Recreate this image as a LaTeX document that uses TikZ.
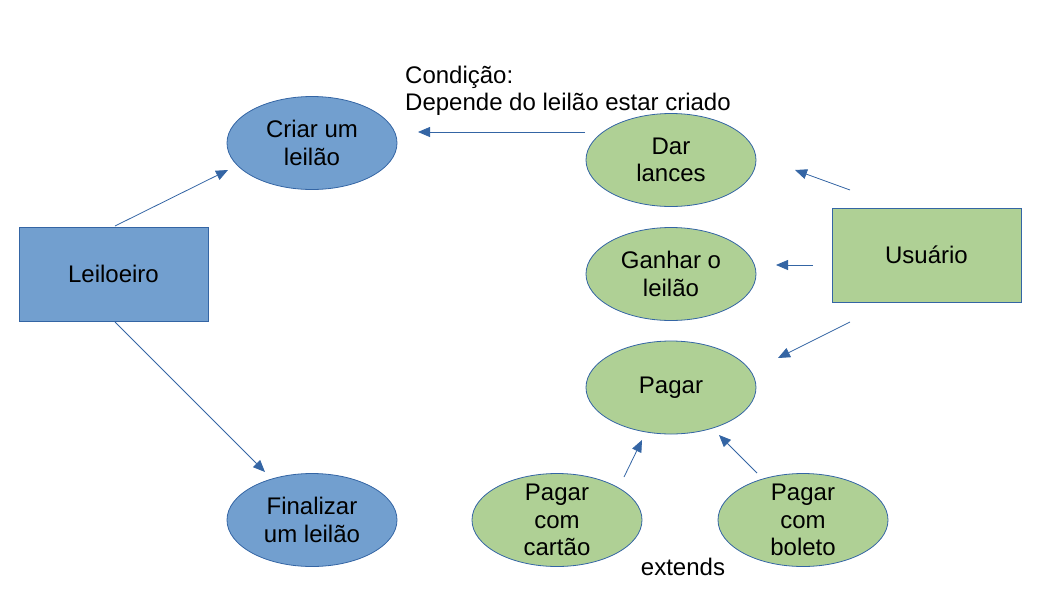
\documentclass[tikz,border=0pt]{standalone}
\usepackage{fontspec}
\setmainfont{Liberation Sans}
\usetikzlibrary{shapes.geometric, arrows.meta}
\definecolor{lblue}{HTML}{729FCF}
\definecolor{dblue}{HTML}{3465A4}
\definecolor{lgreen}{HTML}{AFD095}
\tikzset{
    actor/.style={
        draw=dblue,
        line width=0.8pt,
        rectangle,
        minimum width=189pt,
        minimum height=94pt
    },
    usecase/.style={
        draw=dblue,
        line width=0.8pt,
        ellipse,
        minimum width=170pt,
        minimum height=93pt,
        inner sep=-25pt,
        align=center
    },
    arr/.style={
        draw=dblue,
        line width=0.8pt,
        -{Triangle[length=12pt,width=10pt]}
    }
}

\begin{document}
\begin{tikzpicture}[x=1pt, y=-1pt, font=\fontsize{24}{27.5}\selectfont]
	\useasboundingbox (0,0) rectangle (1058,595);
	\node[actor, fill=lblue] (leiloeiro) at (113.5,274) {Leiloeiro};
	\node[actor, fill=lgreen] (usuario) at (926.5,255) {Usuário};
	\node[usecase, fill=lblue] (criar) at (312,143) {Criar um\\leilão};
	\node[usecase, fill=lblue] (finalizar) at (312,520) {Finalizar\\um leilão};
	\node[usecase, fill=lgreen] (dar) at (671,160) {Dar\\lances};
	\node[usecase, fill=lgreen] (ganhar) at (671,274) {Ganhar o\\leilão};
	\node[usecase, fill=lgreen] (pagar) at (671,387.5) {Pagar};
	\node[usecase, fill=lgreen] (cartao) at (557,520) {Pagar\\com\\cartão};
	\node[usecase, fill=lgreen] (boleto) at (803,520) {Pagar\\com\\boleto};
	\node[anchor=north west, inner sep=0pt, align=left] (cond) at (405,65.5) {Condição:\\Depende do leilão estar criado};
	\node[anchor=base, inner sep=0pt] (ext) at (683,575) {extends};
	\draw[arr] ([shift={(1.5,-48)}]leiloeiro.center) -- ([shift={(-84,27)}]criar.center);
	\draw[arr] ([shift={(1.5,48)}]leiloeiro.center) -- ([shift={(-47,-48)}]finalizar.center);
	\draw[arr] ([shift={(-86,-28)}]dar.center) -- ([shift={(106,-11)}]criar.center);
	\draw[arr] ([shift={(-76.5,-65)}]usuario.center) -- ([shift={(124,10)}]dar.center);
	\draw[arr] ([shift={(-113.5,10)}]usuario.center) -- ([shift={(105,-9)}]ganhar.center);
	\draw[arr] ([shift={(-76.5,67)}]usuario.center) -- ([shift={(107,-29.5)}]pagar.center);
	\draw[arr] ([shift={(67,-43)}]cartao.center) -- ([shift={(-29,52.5)}]pagar.center);
	\draw[arr] ([shift={(-46,-47)}]boleto.center) -- ([shift={(48,47.5)}]pagar.center);
\end{tikzpicture}
\end{document}
